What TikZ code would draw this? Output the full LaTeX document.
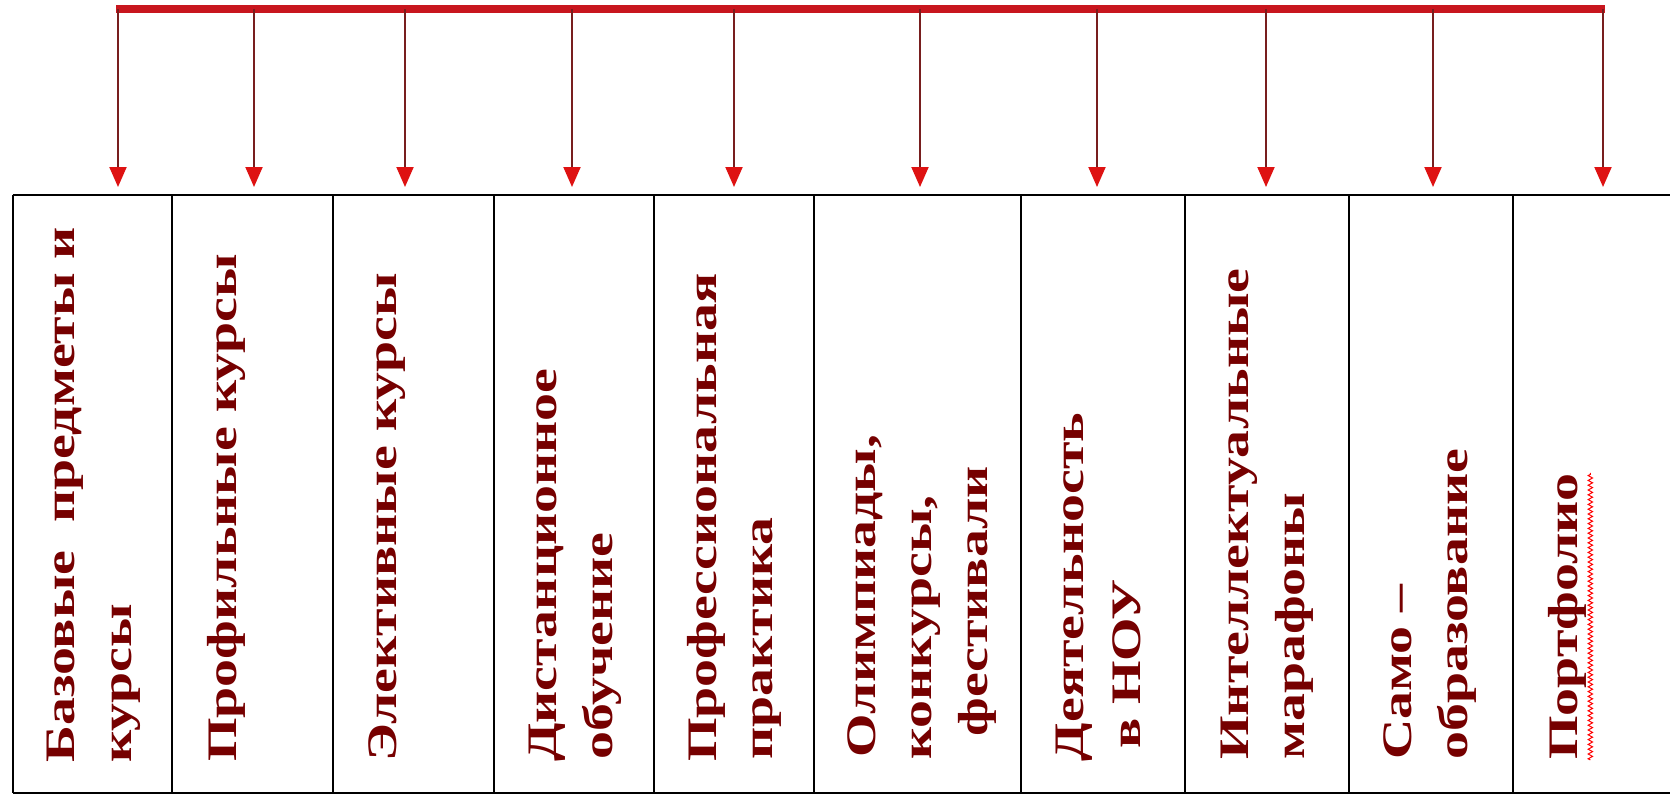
\documentclass[tikz,border=0pt]{standalone}
\usepackage{fontspec}
\setmainfont{Liberation Serif}
\newfontfamily\cellfont{Liberation Serif}[FakeStretch=1.33]
\usetikzlibrary{arrows.meta,decorations.pathmorphing}
\definecolor{txtred}{RGB}{118,0,0}
\definecolor{barred}{RGB}{200,22,30}
\definecolor{shaftred}{RGB}{120,30,30}
\definecolor{headred}{RGB}{222,18,18}
\begin{document}
\begin{tikzpicture}[x=0.5pt,y=0.5pt,
  lbl/.style={rotate=90,anchor=base west,inner sep=0pt,
    font={\cellfont\bfseries\fontsize{21}{25}\selectfont},text=txtred},
  grid/.style={line width=1pt,black},
  bar/.style={line width=4pt,barred},
  drop/.style={line width=1pt,shaftred,-{Triangle[width=8.5pt,length=10pt,color=headred]}},
  squiggle/.style={red,line width=0.5pt,decorate,decoration={zigzag,amplitude=1.1pt,segment length=2.4pt}}]
\useasboundingbox (0,0) rectangle (1670,800);
% distribution bar and arrows
\foreach \n/\x in {1/118,2/254,3/405,4/572,5/734,6/920,7/1097,8/1266,9/1433,10/1603}{
  \coordinate (t\n) at (\x,791);
  \coordinate (h\n) at (\x,613);
}
\draw[bar] ([xshift=-1pt]t1) -- ([xshift=1pt]t10);
\foreach \n in {1,...,10} \draw[drop] (t\n) -- (h\n);
% table
\draw[grid] (12.7,605) -- (1670,605);
\draw[grid] (12.7,7) -- (1670,7);
\foreach \x in {12.7,172,333,494,654,814,1021,1185,1349,1513}
  \draw[grid] (\x,605) -- (\x,7);
% cell texts
\node[lbl] (c1a) at (74,37) {Базовые\hspace{7pt} предметы и};
\node[lbl] (c1b) at (131,37) {курсы};
\node[lbl] (c2a) at (236,38) {Профильные курсы};
\node[lbl] (c3a) at (396,38) {Элективные курсы};
\node[lbl] (c4a) at (556,38) {Дистанционное};
\node[lbl] (c4b) at (612,40) {обучение};
\node[lbl] (c5a) at (716,38) {Профессиональная};
\node[lbl] (c5b) at (772,40) {практика};
\node[lbl] (c6a) at (875,42) {Олимпиады,};
\node[lbl] (c6b) at (931,40) {конкурсы,};
\node[lbl] (c6c) at (987,63) {фестивали};
\node[lbl] (c7a) at (1083,38) {Деятельность};
\node[lbl] (c7b) at (1140,51) {в НОУ};
\node[lbl] (c8a) at (1248,40) {Интеллектуальные};
\node[lbl] (c8b) at (1304,40) {марафоны};
\node[lbl] (c9a) at (1411,40) {Само –};
\node[lbl] (c9b) at (1467,40) {образование};
\node[lbl] (c10a) at (1577,40) {Портфолио};
\draw[squiggle] ([xshift=2pt]c10a.south west) -- ([xshift=2pt]c10a.south east);
\end{tikzpicture}
\end{document}
